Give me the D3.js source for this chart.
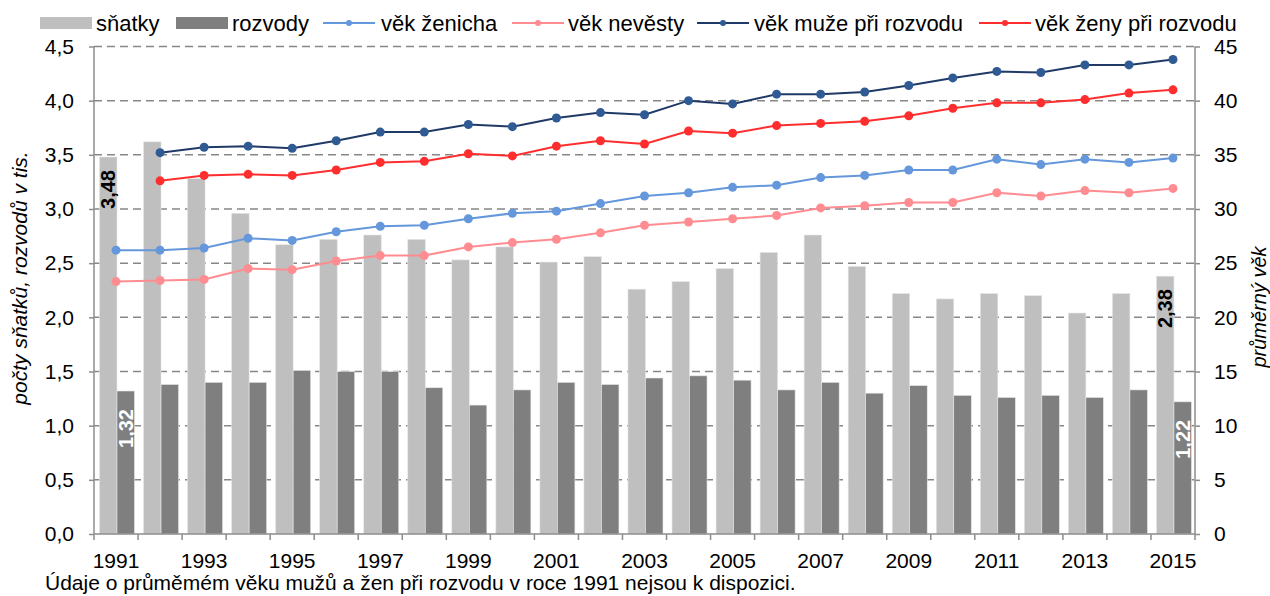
<!DOCTYPE html>
<html><head><meta charset="utf-8">
<script src="https://cdn.jsdelivr.net/npm/d3@7"></script>
<style>
body{margin:0;background:#fff;}
text{font-family:"Liberation Sans",Arial,sans-serif;}
</style>
</head><body>
<svg id="c" width="1270" height="596"></svg>
<script>
const years = d3.range(1991, 2016);
const snatky = [3.48,3.62,3.28,2.96,2.67,2.72,2.76,2.72,2.53,2.65,2.51,2.56,2.26,2.33,2.45,2.60,2.76,2.47,2.22,2.17,2.22,2.20,2.04,2.22,2.38];
const rozvody = [1.32,1.38,1.40,1.40,1.51,1.50,1.50,1.35,1.19,1.33,1.40,1.38,1.44,1.46,1.42,1.33,1.40,1.30,1.37,1.28,1.26,1.28,1.26,1.33,1.22];
const vekZenicha = [26.2,26.2,26.4,27.3,27.1,27.9,28.4,28.5,29.1,29.6,29.8,30.5,31.2,31.5,32.0,32.2,32.9,33.1,33.6,33.6,34.6,34.1,34.6,34.3,34.7];
const vekNevesty = [23.3,23.4,23.5,24.5,24.4,25.2,25.7,25.7,26.5,26.9,27.2,27.8,28.5,28.8,29.1,29.4,30.1,30.3,30.6,30.6,31.5,31.2,31.7,31.5,31.9];
const vekMuzeRozvod = [null,35.2,35.7,35.8,35.6,36.3,37.1,37.1,37.8,37.6,38.4,38.9,38.7,40.0,39.7,40.6,40.6,40.8,41.4,42.1,42.7,42.6,43.3,43.3,43.8];
const vekZenyRozvod = [null,32.6,33.1,33.2,33.1,33.6,34.3,34.4,35.1,34.9,35.8,36.3,36.0,37.2,37.0,37.7,37.9,38.1,38.6,39.3,39.8,39.8,40.1,40.7,41.0];
const leftTicks = [0,0.5,1,1.5,2,2.5,3,3.5,4,4.5];
const rightTicks = [0,5,10,15,20,25,30,35,40,45];
const xLabelYears = years.filter((d,i) => i % 2 === 0);
const labeledYears = [1991, 2015];
const barSeries = ["snatky","rozvody"];
const barNames = {snatky:"sňatky", rozvody:"rozvody"};
const lineSeries = [
  {name:"věk ženicha", values: vekZenicha, line:"#6497DB", fill:"#6497DB"},
  {name:"věk nevěsty", values: vekNevesty, line:"#FF8C90", fill:"#FF8C90"},
  {name:"věk muže při rozvodu", values: vekMuzeRozvod, line:"#1F3A66", fill:"#2F5A94"},
  {name:"věk ženy při rozvodu", values: vekZenyRozvod, line:"#FF2E2E", fill:"#FF2E2E"}
];
const leftTitle = "počty sňatků, rozvodů v tis.";
const rightTitle = "průměrný věk";
const footnote = "Údaje o průměmém věku mužů a žen při rozvodu v roce 1991 nejsou k dispozici.";

const barColor = {snatky:"#BFBFBF", rozvody:"#7F7F7F"};
const svg = d3.select("#c");
const L = 94, R = 1195, T = 46.5, B = 534;
const x = d3.scaleBand().domain(years).range([L, R]).padding(0);
const xi = d3.scaleBand().domain(barSeries).range([5.5, 40.5]).padding(0);
const yL = d3.scaleLinear().domain([0, 4.5]).range([B, T]);
const yR = d3.scaleLinear().domain([0, 45]).range([B, T]);
const fmt1 = d => d3.format(".1f")(d).replace(".", ",");
const fmt2 = d => d3.format(".2f")(d).replace(".", ",");
const axisColor = "#8C8C8C";
const FS = 21;

// gridlines
svg.append("g").selectAll("line").data(leftTicks.filter(d => d > 0)).join("line")
  .attr("x1", L).attr("x2", R).attr("y1", d => yL(d)).attr("y2", d => yL(d))
  .attr("stroke", "#878787").attr("stroke-width", 1.5).attr("stroke-dasharray", "8,5");

// bars
const data = years.map((yr, i) => ({year: yr, snatky: snatky[i], rozvody: rozvody[i]}));
const gb = svg.append("g");
data.forEach(d => {
  barSeries.forEach(s => {
    gb.append("rect")
      .attr("x", x(d.year) + xi(s)).attr("width", xi.bandwidth())
      .attr("y", yL(d[s])).attr("height", yL(0) - yL(d[s]))
      .attr("fill", barColor[s]).attr("stroke", "#E6E6E6").attr("stroke-width", 0.6);
  });
});

// axes
const gl = svg.append("g").attr("transform", `translate(${L},0)`)
  .call(d3.axisLeft(yL).tickValues(leftTicks).tickFormat(fmt1).tickSize(5).tickPadding(15));
const gr = svg.append("g").attr("transform", `translate(${R},0)`)
  .call(d3.axisRight(yR).tickValues(rightTicks).tickFormat(d => d).tickSize(5).tickPadding(14));
[gl, gr].forEach(g => {
  g.select(".domain").attr("stroke", axisColor).attr("stroke-width", 1.5).attr("d", `M0,${T}V${B}`);
  g.selectAll(".tick line").attr("stroke", axisColor).attr("stroke-width", 1.5);
  g.selectAll(".tick text").attr("font-size", FS).attr("fill", "#000")
    .style("font-family", '"Liberation Sans",Arial,sans-serif');
});
// bottom axis
const gx = svg.append("g");
gx.append("line").attr("x1", L).attr("x2", R).attr("y1", B).attr("y2", B)
  .attr("stroke", axisColor).attr("stroke-width", 1.5);
gx.selectAll("line.t").data(years.concat([null])).join("line").attr("class", "t")
  .attr("x1", d => d === null ? R : x(d)).attr("x2", d => d === null ? R : x(d))
  .attr("y1", B).attr("y2", B + 6).attr("stroke", axisColor).attr("stroke-width", 1.5);
gx.selectAll("text").data(xLabelYears).join("text")
  .attr("x", d => x(d) + x.bandwidth() / 2).attr("y", 568)
  .attr("text-anchor", "middle").attr("font-size", FS).text(d => d);

// bar labels
const labelStyle = {snatky: {fill: "#000", off: 13}, rozvody: {fill: "#fff", off: 18}};
data.filter(d => labeledYears.includes(d.year)).forEach(d => {
  barSeries.forEach(s => {
    const cx = x(d.year) + xi(s) + xi.bandwidth() / 2;
    const ty = yL(d[s]) + labelStyle[s].off;
    svg.append("text")
      .attr("transform", `translate(${cx + 7},${ty}) rotate(-90)`)
      .attr("text-anchor", "end").attr("font-size", 20).attr("font-weight", "bold")
      .attr("fill", labelStyle[s].fill).text(fmt2(d[s]));
  });
});

// lines
lineSeries.forEach(ls => {
  const pts = years.map((yr, i) => ({year: yr, v: ls.values[i]})).filter(p => p.v !== null);
  const line = d3.line().x(p => x(p.year) + x.bandwidth() / 2).y(p => yR(p.v));
  svg.append("path").datum(pts).attr("d", line).attr("fill", "none")
    .attr("stroke", ls.line).attr("stroke-width", 2);
  svg.append("g").selectAll("circle").data(pts).join("circle")
    .attr("cx", p => x(p.year) + x.bandwidth() / 2).attr("cy", p => yR(p.v)).attr("r", 4.5)
    .attr("fill", ls.fill);
});

// legend
const lg = svg.append("g");
const legendItems = [
  {type:"bar", key:"snatky", x0:40, tx:96},
  {type:"bar", key:"rozvody", x0:176, tx:232},
  {type:"line", idx:0, x0:323, tx:381},
  {type:"line", idx:1, x0:512, tx:568},
  {type:"line", idx:2, x0:697, tx:754},
  {type:"line", idx:3, x0:979, tx:1035}
];
const ly = 23;
legendItems.forEach(it => {
  if (it.type === "bar") {
    lg.append("rect").attr("x", it.x0).attr("y", ly - 6).attr("width", 52).attr("height", 12)
      .attr("fill", barColor[it.key]);
    lg.append("text").attr("x", it.tx).attr("y", ly + 8).attr("font-size", 22).text(barNames[it.key]);
  } else {
    const ls = lineSeries[it.idx];
    lg.append("line").attr("x1", it.x0).attr("x2", it.x0 + 52).attr("y1", ly).attr("y2", ly)
      .attr("stroke", ls.line).attr("stroke-width", 2);
    lg.append("circle").attr("cx", it.x0 + 26).attr("cy", ly).attr("r", 3).attr("fill", ls.fill);
    lg.append("text").attr("x", it.tx).attr("y", ly + 8).attr("font-size", 22).text(ls.name);
  }
});

// axis titles
svg.append("text").attr("transform", "translate(27,278) rotate(-90)")
  .attr("text-anchor", "middle").attr("font-size", 21).attr("font-style", "italic").text(leftTitle);
svg.append("text").attr("transform", "translate(1266,307) rotate(-90)")
  .attr("text-anchor", "middle").attr("font-size", 20).attr("font-style", "italic").text(rightTitle);
// footnote
svg.append("text").attr("x", 45).attr("y", 590).attr("font-size", 21).text(footnote);
</script>
</body></html>
